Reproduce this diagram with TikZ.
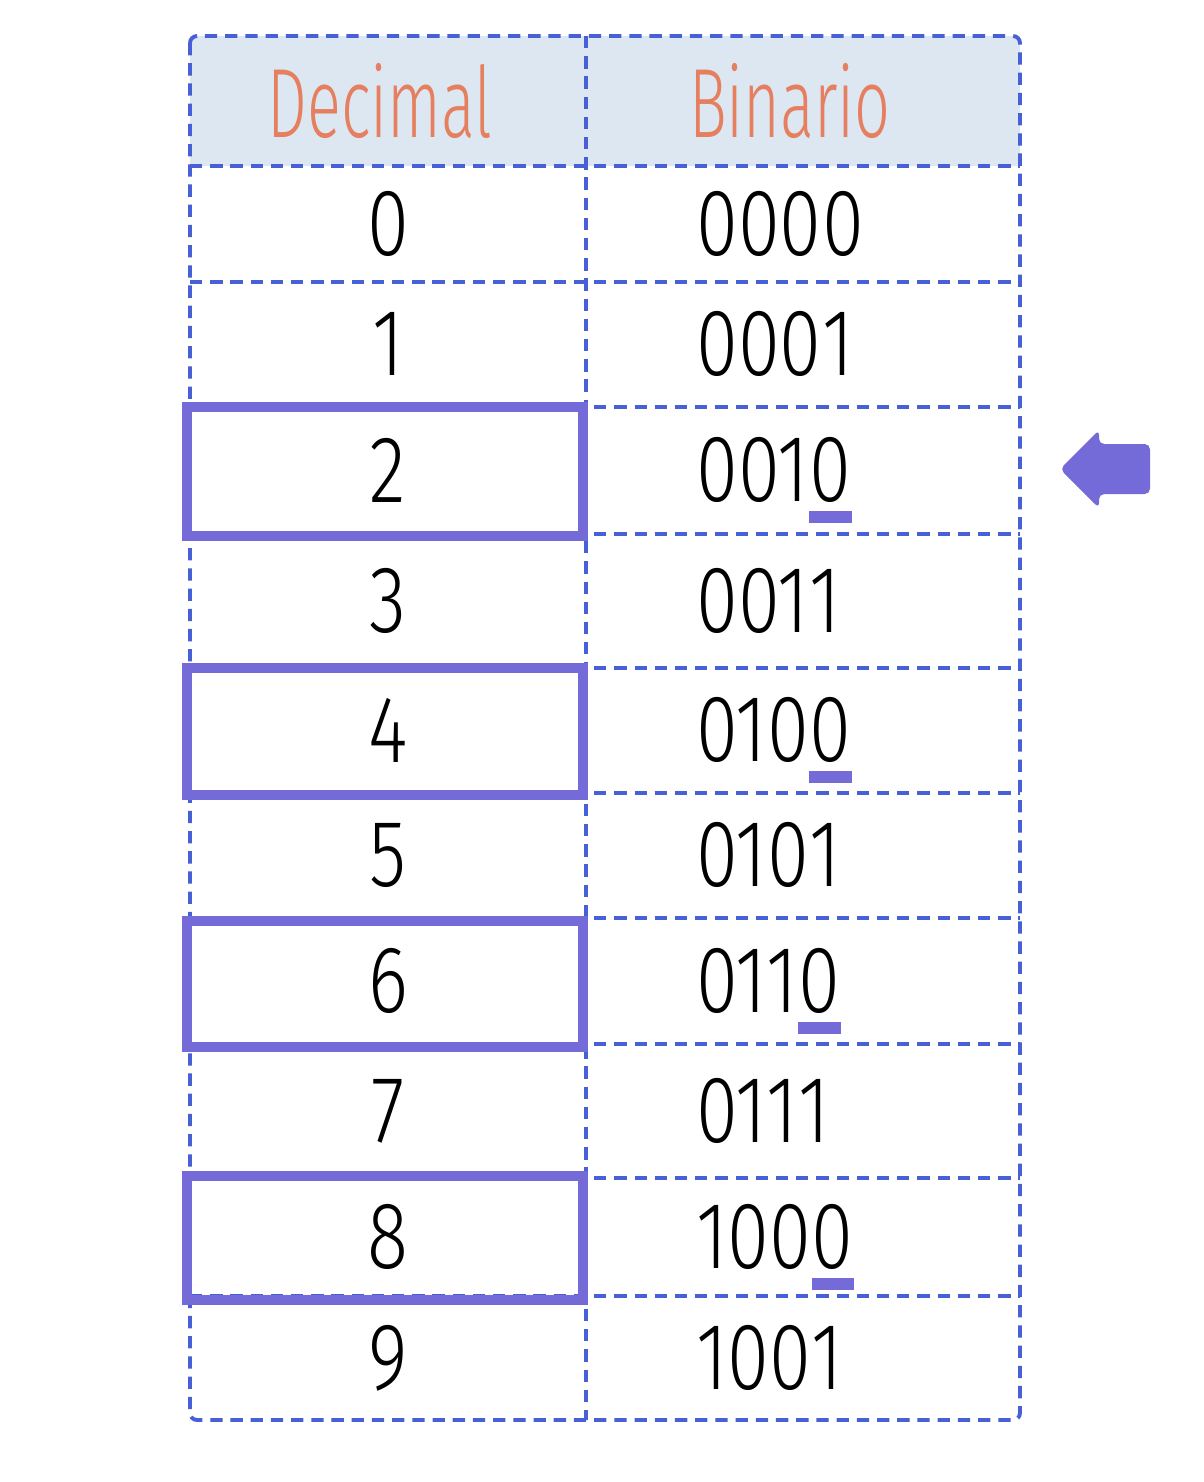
\documentclass[tikz,border=0pt]{standalone}
\usepackage{fontspec}
\setmainfont{Fira Sans}[UprightFont=* Light, FakeStretch=0.8]
\newfontfamily\headfont{Fira Sans}[UprightFont=* Light, FakeStretch=0.64]
\usetikzlibrary{positioning}

\definecolor{gridblue}{RGB}{72,96,214}
\definecolor{hilite}{RGB}{117,107,216}
\definecolor{headfill}{RGB}{220,231,241}
\definecolor{headorange}{RGB}{229,127,95}

\begin{document}
\begin{tikzpicture}[
    x=0.02cm,
    y=-0.02cm,
    grid/.style={draw=gridblue, line width=2.2pt, dash pattern=on 7pt off 4.5pt},
    cell/.style={inner sep=0pt, font=\fontsize{54}{60}\selectfont},
    head/.style={inner sep=0pt, text=headorange, font=\headfont\fontsize{56}{60}\selectfont},
    hbox/.style={draw=hilite, line width=5.6pt},
    ubar/.style={draw=hilite, line width=7pt},
]
    \useasboundingbox (0,0) rectangle (1204,1482);

    % header band
    \fill[headfill] (190,166) {[rounded corners=4pt] -- (190,36) -- (1020,36)} -- (1020,166) -- cycle;

    % dashed grid
    \foreach \y in {166,282,407,534,668,793,918,1044,1178,1296}
        \draw[grid] (190,\y) -- (1020,\y);
    \draw[grid] (586,36) -- (586,1420);
    \draw[grid, rounded corners=4pt] (190,36) rectangle (1020,1420);

    \node[head] (hdec) at (380,101) {Decimal};
    \node[head] (hbin) at (790,101) {Binario};

    \foreach \n/\yc/\pre/\last in {0/224/000/0, 1/344/000/1, 2/470/001/0, 3/601/001/1,
        4/730/010/0, 5/855/010/1, 6/981/011/0, 7/1111/011/1, 8/1237/100/0, 9/1358/100/1} {
        \node[cell] (d\n) at (388,\yc) {\n};
        \node[cell, anchor=west] (b\n) at (696,\yc) {\pre};
        \node[cell, right=0pt of b\n] (l\n) {\last};
    }

    % even numbers
    \draw[hbox] (187,407) rectangle (583,536);
    \draw[hbox] (187,668) rectangle (583,795);
    \draw[hbox] (187,921) rectangle (583,1047);
    \draw[hbox] (187,1176) rectangle (583,1300);
    \foreach \n in {2,4,6,8}
        \draw[ubar] ([yshift=-8pt]l\n.south west) -- ([yshift=-8pt]l\n.south east);

    \fill[hilite, rounded corners=3pt] (1060,469) -- (1099,430) -- (1099,444) -- (1150,444)
        -- (1150,494) -- (1099,494) -- (1099,508) -- cycle;
\end{tikzpicture}
\end{document}
